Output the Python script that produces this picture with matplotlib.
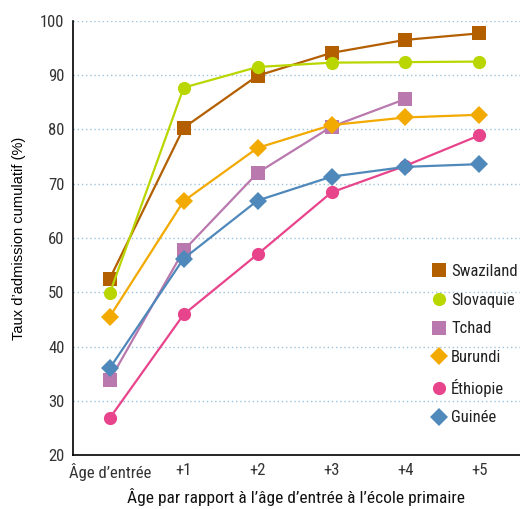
import matplotlib.pyplot as plt
from matplotlib import font_manager
from matplotlib.lines import Line2D

names = {f.name for f in font_manager.fontManager.ttflist}
narrow = next((n for n in ["Roboto Condensed", "Archivo Narrow", "PT Sans Narrow",
                           "Fira Sans Condensed", "IBM Plex Sans Condensed"] if n in names), "DejaVu Sans")
plt.rcParams["font.family"] = [narrow, "DejaVu Sans"]
regular = ["Liberation Sans", "DejaVu Sans"]

categories = ["Âge d’entrée", "+1", "+2", "+3", "+4", "+5"]

swaziland = [52.5, 80.3, 89.9, 94.1, 96.5, 97.7]
slovaquie = [49.8, 87.7, 91.5, 92.3, 92.4, 92.5]
tchad = [33.8, 57.7, 72.0, 80.5, 85.6]
burundi = [45.5, 66.8, 76.6, 80.8, 82.2, 82.7]
ethiopie = [26.8, 45.9, 57.0, 68.4, 73.3, 78.9]
guinee = [36.0, 56.2, 66.9, 71.3, 73.1, 73.6]

series = [
    ("Swaziland", swaziland, "#B35F00", "s", 10.5),
    ("Slovaquie", slovaquie, "#BAD600", "o", 9.5),
    ("Tchad", tchad, "#B978AE", "s", 10.5),
    ("Burundi", burundi, "#F2A900", "D", 9.5),
    ("Éthiopie", ethiopie, "#E8448C", "o", 9.5),
    ("Guinée", guinee, "#4F88BA", "D", 9.5),
]

fig = plt.figure(figsize=(5.2, 5.09), dpi=100)
ax = fig.add_axes([0.140, 0.106, 0.86, 0.853])

handles = []
for name, vals, color, marker, ms in series:
    ax.plot(range(len(vals)), vals, color=color, lw=1.6, marker=marker,
            markersize=ms, markeredgewidth=0, zorder=3)
    handles.append(Line2D([], [], ls="none", marker=marker, color=color,
                          markersize=ms, markeredgewidth=0, label=name))

ax.set_xlim(-0.5, 5.55)
ax.set_ylim(20, 100)
ax.set_xticks(range(len(categories)))
ax.set_xticklabels(categories)
ax.set_yticks(range(20, 101, 10))
ax.tick_params(length=0, labelsize=12, colors="#333333", pad=6)
for y in range(30, 101, 10):
    ax.axhline(y, color="#9CC3DD", lw=1, ls=(0, (1, 2)), zorder=1)

for side in ["top", "right"]:
    ax.spines[side].set_visible(False)
for side in ["left", "bottom"]:
    ax.spines[side].set_color("black")
    ax.spines[side].set_linewidth(1.2)

ax.set_xlabel("Âge par rapport à l’âge d’entrée à l’école primaire", fontsize=12.5,
              labelpad=5, color="#111111")
ax.set_ylabel("Taux d’admission cumulatif (%)", fontsize=10.5, labelpad=10, family=regular)

leg = ax.legend(handles=handles, loc="upper left", bbox_to_anchor=(0.805, 0.44),
                frameon=False, fontsize=12, handlelength=0.8, handletextpad=0.3,
                labelspacing=0.82, borderaxespad=0, borderpad=0)
for t in leg.get_texts():
    t.set_color("#222222")

fig.savefig("out.png", dpi=100)
